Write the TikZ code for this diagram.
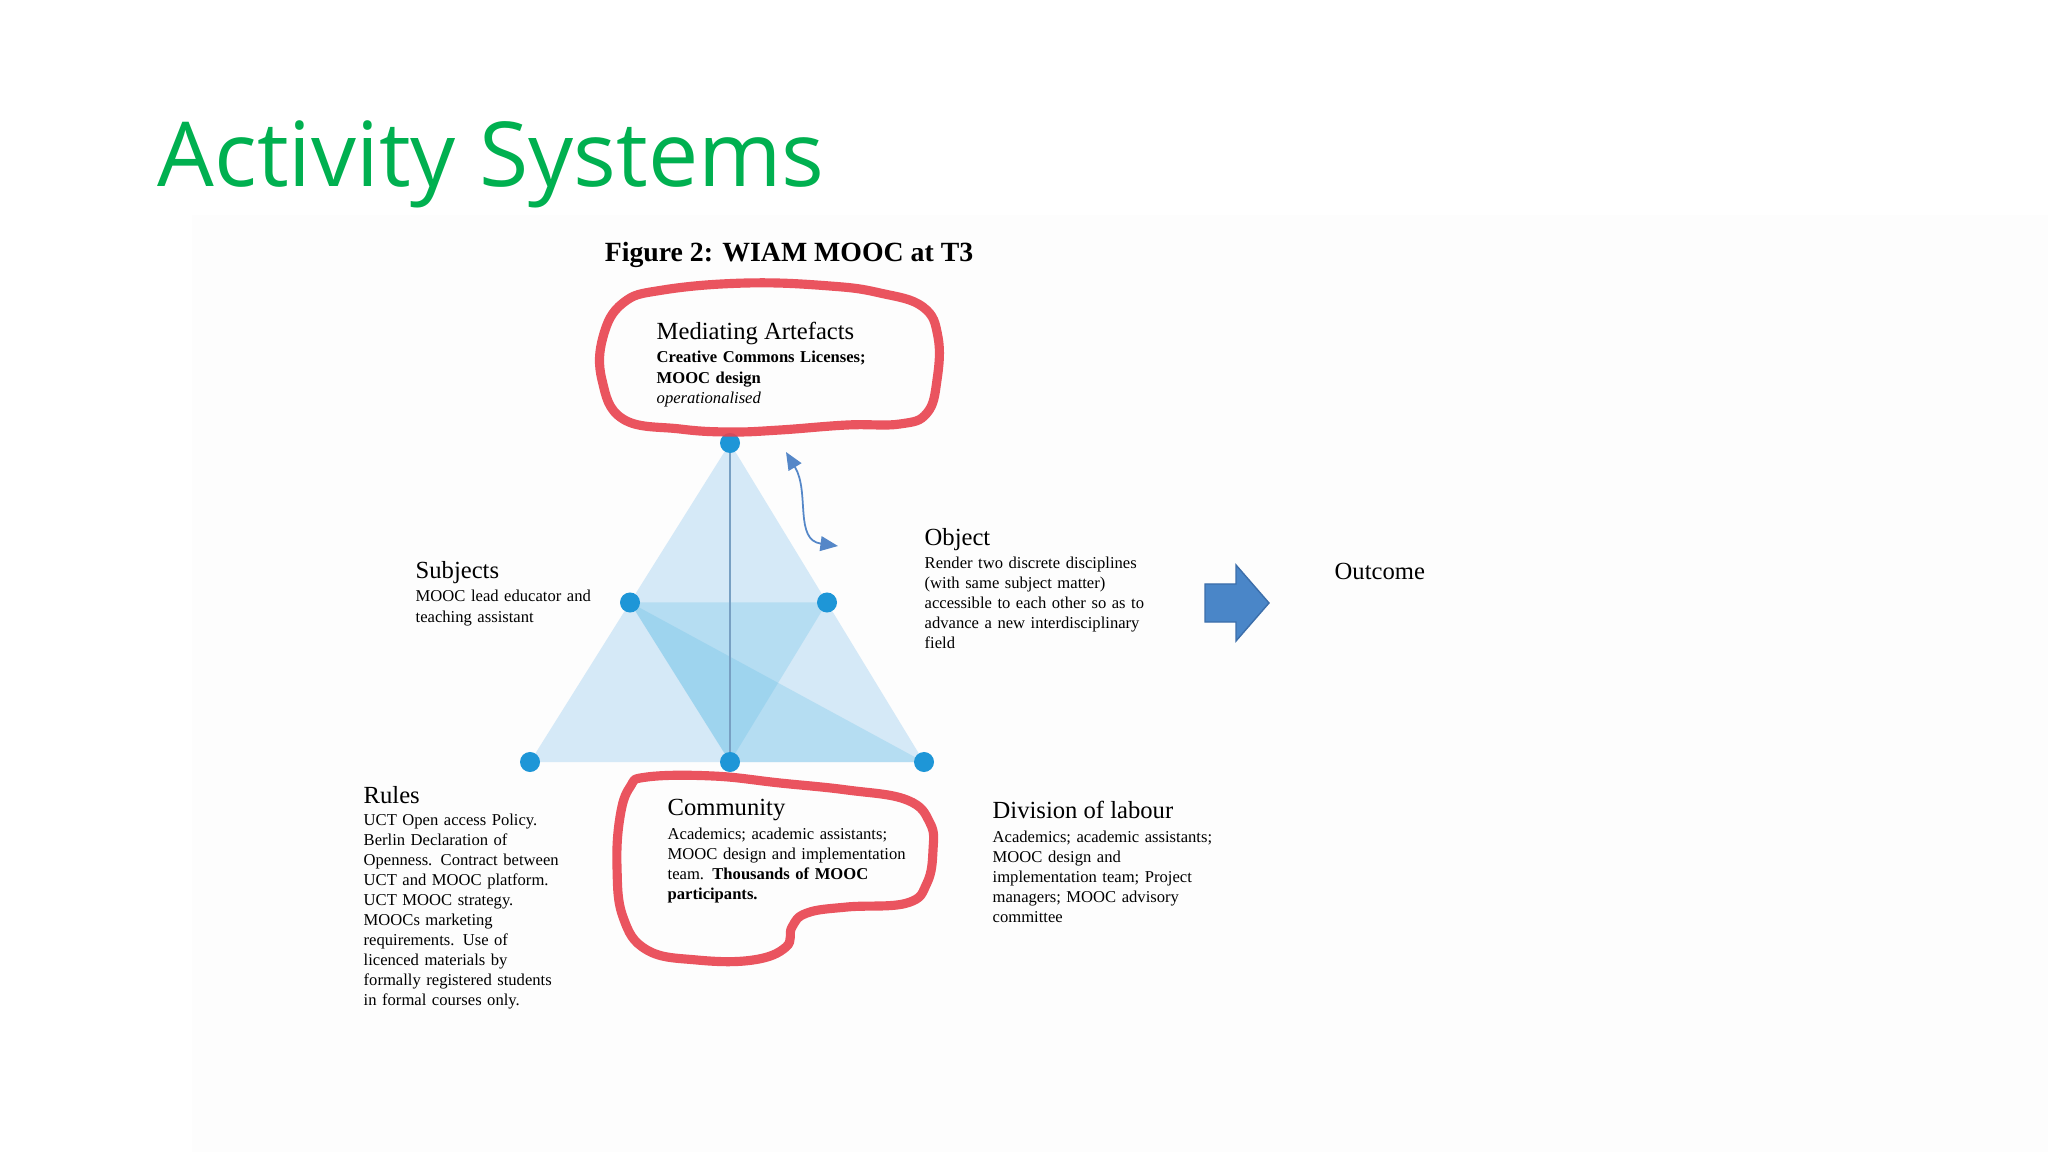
\documentclass[tikz,border=0pt]{standalone}
\usepackage{fontspec}
\setmainfont{Liberation Serif}
\newfontfamily\titlefont{Open Sans}
\usepackage{xcolor}
\usepackage{tikz}
\usetikzlibrary{arrows.meta,positioning,calc}

\definecolor{slidegreen}{RGB}{0,176,80}
\definecolor{triblue}{RGB}{213,233,247}
\definecolor{layerblue}{RGB}{100,190,230}
\definecolor{dotblue}{RGB}{30,150,215}
\definecolor{markred}{RGB}{232,66,78}
\definecolor{arrowblue}{RGB}{74,134,200}
\definecolor{swingblue}{RGB}{85,135,200}

\begin{document}
\begin{tikzpicture}[x=0.01cm, y=-0.01cm,
  head/.style={inner sep=0pt, anchor=base west, font=\fontsize{7}{8}\selectfont},
  body/.style={inner sep=0pt, anchor=base west, text width=3cm, align=left, font=\fontsize{4.72}{5.7}\selectfont},
  vertex/.style={circle, fill=dotblue, inner sep=0pt, minimum size=0.2cm},
  layer/.style={fill=layerblue, fill opacity=0.28},
  marker/.style={draw=markred, line width=2.6pt, line join=round, opacity=0.9},
  swing/.style={draw=swingblue, line width=0.5pt, {Triangle[length=5pt,width=4.2pt]}-{Triangle[length=5pt,width=4.2pt]}}]
\useasboundingbox (0,0) rectangle (2048,1152);
\fill[white] (0,0) rectangle (2048,1152);
\fill[black!0.6] (192,215) rectangle (2048,1152);

\node[anchor=base west, inner sep=0pt, text=slidegreen, font=\titlefont\fontsize{25.5}{28}\selectfont] (title) at (157,187) {Activity Systems};
\node[anchor=base, inner sep=0pt, font=\bfseries\fontsize{7.9}{9}\selectfont] (figtitle) at (789,262) {Figure 2: WIAM MOOC at T3};

% triangle
\coordinate (t) at (730,443);
\coordinate (bl) at (530,762);
\coordinate (br) at (924,762);
\coordinate (bm) at (730,762);
\coordinate (ml) at ($(t)!0.5!(bl)$);
\coordinate (mr) at ($(t)!0.5!(br)$);
\fill[triblue] (t) -- (bl) -- (br) -- cycle;
\fill[layer] (ml) -- (mr) -- (bm) -- cycle;
\fill[layer] (ml) -- (bm) -- (br) -- cycle;
\draw[color={rgb,255:red,120;green,160;blue,195}, line width=0.5pt] (t) -- (bm);

\node[vertex] (med) at (t) {};
\node[vertex] (subj) at (ml) {};
\node[vertex] (obj) at (mr) {};
\node[vertex] (rules) at (bl) {};
\node[vertex] (comm) at (bm) {};
\node[vertex] (div) at (br) {};

\coordinate (swing1) at (786,452);
\coordinate (swing2) at (838,546);
\draw[swing] (swing1) .. controls (810,492) and (794,540) .. (swing2);

% red marker loops
\draw[marker] plot[smooth cycle, tension=0.7] coordinates {(623,303) (663,290) (747,283) (830,286) (880,293) (923,307) (938,337) (937,380) (927,413) (900,424) (847,425) (780,430) (730,432) (680,429) (623,419) (602,380) (603,337)};
\draw[marker] plot[smooth cycle, tension=0.7] coordinates {(647,777) (713,776) (780,783) (847,790) (907,800) (930,823) (933,850) (927,883) (907,903) (847,907) (807,913) (792,927) (786,947) (753,960) (697,960) (647,950) (623,917) (617,867) (620,817) (630,787)};

% labels
\node[head] (medhead) at (656,340) {Mediating Artefacts};
\node[body] (medtxt) at (656,363) {\textbf{Creative Commons Licenses;}\\\textbf{MOOC design}\\\textit{operationalised}};

\node[head] (subjhead) at (415,578) {Subjects};
\node[body] (subjtxt) at (415,602) {MOOC lead educator and\\teaching assistant};

\node[head] (objhead) at (924,545) {Object};
\node[body] (objtxt) at (924,568) {Render two discrete disciplines\\(with same subject matter)\\accessible to each other so as to\\advance a new interdisciplinary\\field};

\node[head] (ruleshead) at (363,803) {Rules};
\node[body] (rulestxt) at (363,825) {UCT Open access Policy.\\Berlin Declaration of\\Openness. Contract between\\UCT and MOOC platform.\\UCT MOOC strategy.\\MOOCs marketing\\requirements. Use of\\licenced materials by\\formally registered students\\in formal courses only.};

\node[head] (commhead) at (667,815) {Community};
\node[body] (commtxt) at (667,839) {Academics; academic assistants;\\MOOC design and implementation\\team. \textbf{Thousands of MOOC}\\\textbf{participants.}};

\node[head] (divhead) at (992,818) {Division of labour};
\node[body] (divtxt) at (992,842) {Academics; academic assistants;\\MOOC design and\\implementation team; Project\\managers; MOOC advisory\\committee};

\node[head] (outhead) at (1334,580) {Outcome};

% block arrow
\fill[arrowblue, draw={rgb,255:red,60;green,110;blue,170}, line width=0.4pt] (1205,584) -- (1236,584) -- (1236,565) -- (1269,603) -- (1236,641) -- (1236,622) -- (1205,622) -- cycle;
\end{tikzpicture}
\end{document}
